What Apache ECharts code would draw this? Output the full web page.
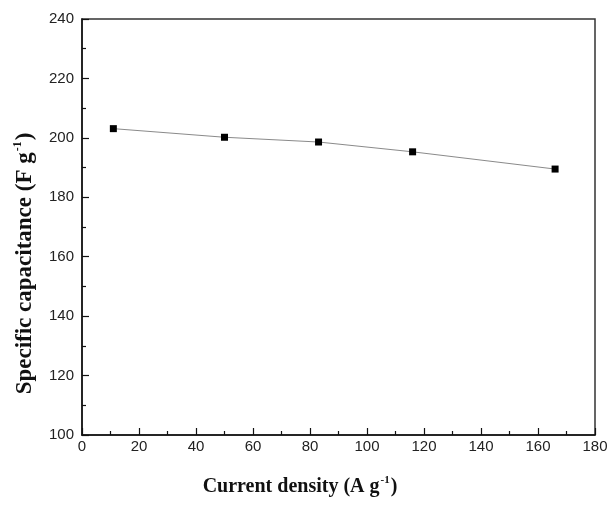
<!DOCTYPE html>
<html>
<head>
<meta charset="utf-8">
<script src="https://cdn.jsdelivr.net/npm/echarts@6/dist/echarts.min.js"></script>
<style>
html,body{margin:0;padding:0;background:#fff;}
#chart{width:613px;height:507px;}
</style>
</head>
<body>
<div id="chart"></div>
<script>
// Data
var currentDensity = [11, 50, 83, 116, 166];          // A g-1
var capacitance = [203.1, 200.2, 198.6, 195.3, 189.5]; // F g-1
var xTicks = [0, 20, 40, 60, 80, 100, 120, 140, 160, 180];
var yTicks = [100, 120, 140, 160, 180, 200, 220, 240];

var points = currentDensity.map(function (x, i) { return [x, capacitance[i]]; });

var chart = echarts.init(document.getElementById('chart'), null, {renderer: 'canvas'});

var titleRich = {
  a: {fontFamily: 'Liberation Serif', fontWeight: 'bold', fontSize: 20, color: '#111', lineHeight: 24},
  s: {fontFamily: 'Liberation Serif', fontWeight: 'bold', fontSize: 11, color: '#111', verticalAlign: 'top', lineHeight: 24, padding: [0, 1, 0, 1]}
};
var titleRichY = {
  a: {fontFamily: 'Liberation Serif', fontWeight: 'bold', fontSize: 23, color: '#111', lineHeight: 26},
  s: {fontFamily: 'Liberation Serif', fontWeight: 'bold', fontSize: 12, color: '#111', verticalAlign: 'top', lineHeight: 26, padding: [0, 1, 0, 1]}
};

chart.setOption({
  animation: false,
  backgroundColor: '#fff',
  grid: {
    left: 82, right: 18, top: 19, bottom: 72,
    show: true, borderColor: '#333', borderWidth: 1.5, backgroundColor: 'transparent'
  },
  xAxis: {
    type: 'value',
    min: xTicks[0], max: xTicks[xTicks.length - 1], interval: 20,
    name: '{a|Current density (A g}{s|-1}{a|)}',
    nameLocation: 'middle',
    nameGap: 40,
    nameTextStyle: {rich: titleRich, padding: [0, 77, 0, 0]},
    axisLine: {show: true, lineStyle: {color: '#111', width: 1.5}},
    axisTick: {show: true, inside: true, length: 7, lineStyle: {color: '#111', width: 1.2}},
    minorTick: {show: true, splitNumber: 2, length: 4, lineStyle: {color: '#111', width: 1.2}},
    axisLabel: {fontFamily: 'Liberation Sans', fontSize: 15, color: '#222', margin: 4},
    splitLine: {show: false}
  },
  yAxis: {
    type: 'value',
    min: yTicks[0], max: yTicks[yTicks.length - 1], interval: 20,
    name: '{a|Specific capacitance (F g}{s|-1}{a|)}',
    nameLocation: 'middle',
    nameGap: 44,
    nameTextStyle: {rich: titleRichY, padding: [0, 73, 0, 0]},
    axisLine: {show: true, lineStyle: {color: '#111', width: 1.5}},
    axisTick: {show: true, inside: true, length: 7, lineStyle: {color: '#111', width: 1.2}},
    minorTick: {show: true, splitNumber: 2, length: 4, lineStyle: {color: '#111', width: 1.2}},
    axisLabel: {fontFamily: 'Liberation Sans', fontSize: 15, color: '#222', margin: 8},
    splitLine: {show: false}
  },
  series: [{
    type: 'line',
    data: points,
    symbol: 'rect',
    symbolSize: 7,
    showSymbol: true,
    lineStyle: {color: '#8a8a8a', width: 1},
    itemStyle: {color: '#000'},
    z: 3
  }]
});
</script>
</body>
</html>
